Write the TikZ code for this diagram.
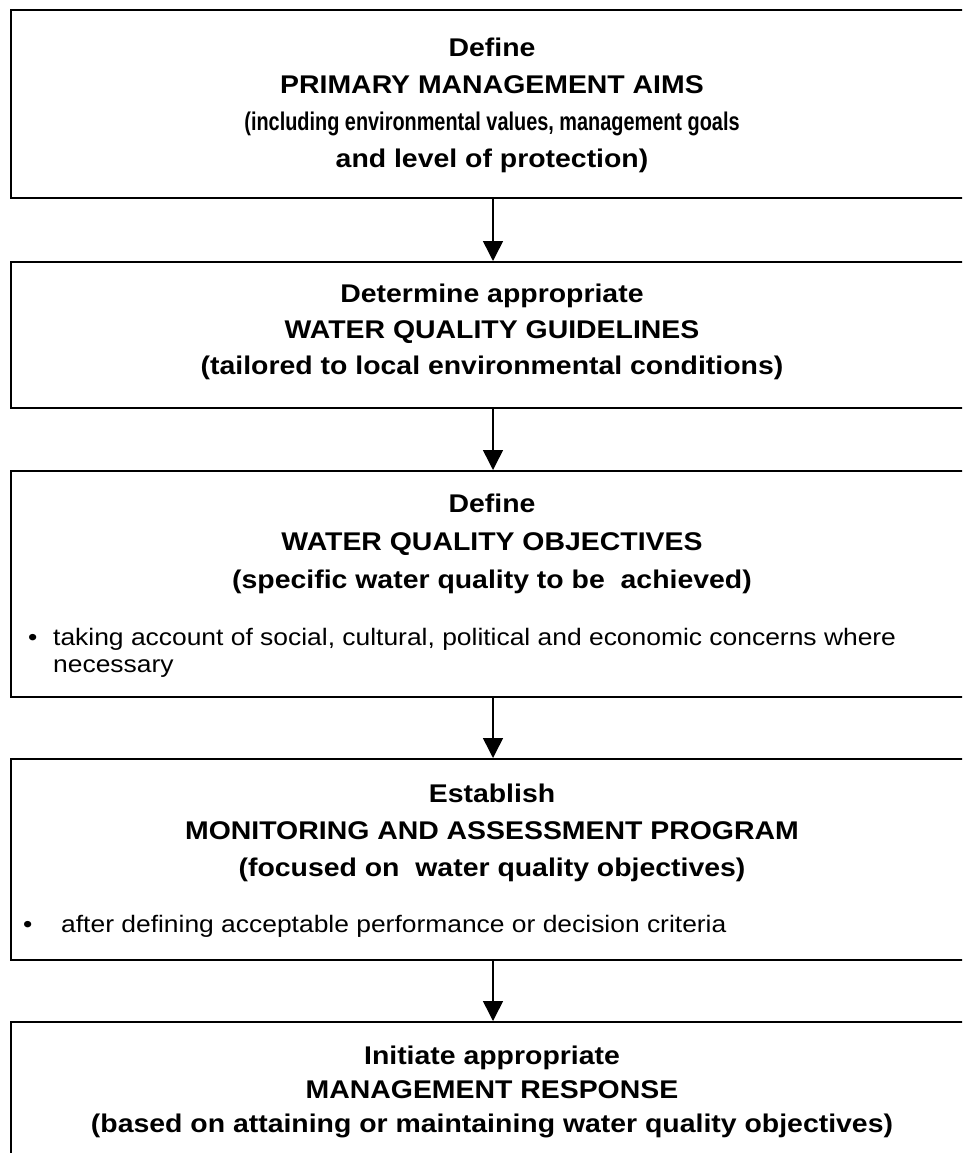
\documentclass[tikz,border=0pt]{standalone}
\usepackage{fontspec}
\setmainfont[FakeStretch=1.11]{Liberation Sans}
\usetikzlibrary{arrows.meta}

\tikzset{
  stage/.style={draw=black, line width=2pt, minimum width=964pt, inner sep=0pt, anchor=north west},
  head/.style={font=\fontsize{25.6}{30}\selectfont\bfseries, anchor=base, inner sep=0pt},
  note/.style={font=\fontsize{23.8}{27}\selectfont, anchor=base west, inner sep=0pt},
  flow/.style={line width=1.5pt, -{Triangle[width=20pt,length=20pt]}}
}

\begin{document}
\begin{tikzpicture}[x=1pt, y=-1pt]
   \useasboundingbox (0,0) rectangle (962,1153);
   \clip (0,0) rectangle (962,1153);
   % the five stages
   \node[stage, minimum height=188pt] (aims) at (10,9) {};
   \node[stage, minimum height=146pt] (guide) at (10,261) {};
   \node[stage, minimum height=226pt] (object) at (10,470) {};
   \node[stage, minimum height=201pt] (monit) at (10,758) {};
   \node[stage, minimum height=160pt] (resp) at (10,1021) {};
   % stage 1
   \node[head] (aimsA) at (492,57) {Define};
   \node[head] (aimsB) at (492,94) {PRIMARY MANAGEMENT AIMS};
   \node[head] (aimsC) at (492,131) {\scalebox{0.7}[1]{(including environmental values, management goals}};
   \node[head] (aimsD) at (492,167) {and level of protection)};
   % stage 2
   \node[head] (guideA) at (492,302) {Determine appropriate};
   \node[head] (guideB) at (492,338) {WATER QUALITY GUIDELINES};
   \node[head] (guideC) at (492,374) {(tailored to local environmental conditions)};
   % stage 3
   \node[head] (objectA) at (492,512) {Define};
   \node[head] (objectB) at (492,550) {WATER QUALITY OBJECTIVES};
   \node[head] (objectC) at (492,588) {(specific water quality to be~ achieved)};
   \node[note] (objectDot) at (28,645) {•};
   \node[note] (objectD) at (53,645) {taking account of social, cultural, political and economic concerns where};
   \node[note] (objectE) at (53,672) {necessary};
   % stage 4
   \node[head] (monitA) at (492,802) {Establish};
   \node[head] (monitB) at (492,839) {MONITORING AND ASSESSMENT PROGRAM};
   \node[head] (monitC) at (492,876) {(focused on~ water quality objectives)};
   \node[note] (monitDot) at (23,932) {•};
   \node[note] (monitD) at (61,932) {after defining acceptable performance or decision criteria};
   % stage 5
   \node[head] (respA) at (492,1064) {Initiate appropriate};
   \node[head] (respB) at (492,1098) {MANAGEMENT RESPONSE};
   \node[head] (respC) at (492,1132) {(based on attaining or maintaining water quality objectives)};
   % arrows
   \draw[flow] (aims.south) -- (guide.north);
   \draw[flow] (guide.south) -- (object.north);
   \draw[flow] (object.south) -- (monit.north);
   \draw[flow] (monit.south) -- (resp.north);
\end{tikzpicture}
\end{document}
